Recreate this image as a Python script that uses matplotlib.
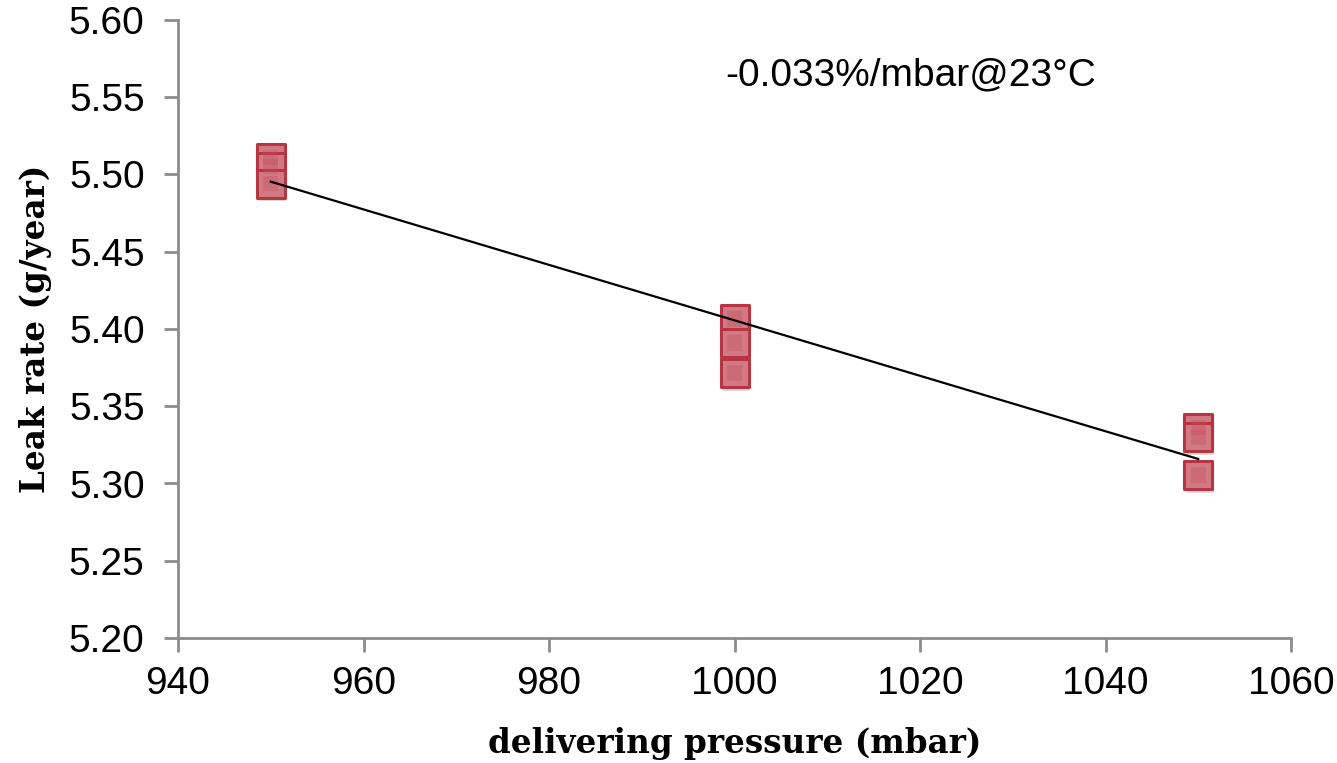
import matplotlib
matplotlib.use("Agg")
import matplotlib.pyplot as plt
import matplotlib.transforms as mtransforms
import numpy as np

# leak rate readings at three delivering pressures
pressure = [950, 950, 950, 1000, 1000, 1000, 1050, 1050, 1050]
leak_rate = [5.511, 5.505, 5.494, 5.4065, 5.391, 5.3715, 5.336, 5.330, 5.3055]
x_ticks = [940, 960, 980, 1000, 1020, 1040, 1060]
y_ticks = [5.20, 5.25, 5.30, 5.35, 5.40, 5.45, 5.50, 5.55, 5.60]
note = "-0.033%/mbar@23°C"

grey = "#8c8c8c"
fig = plt.figure(figsize=(13.37, 7.63), dpi=100)
ax = fig.add_axes([178 / 1337, 1 - 638 / 763, (1291 - 178) / 1337, (638 - 20) / 763])

# linear trend (Excel-style, only across data range)
x = np.array(pressure, dtype=float)
y = np.array(leak_rate)
k, b = np.polyfit(x, y, 1)
xs = np.array([x.min(), x.max()])

# soft drop shadow under the markers
shadow = mtransforms.offset_copy(ax.transData, fig=fig, x=2, y=-4, units="dots")
ax.scatter(pressure, leak_rate, marker="s", s=380, facecolor="#888888",
           edgecolor="none", alpha=0.3, transform=shadow, zorder=2)
ax.scatter(pressure, leak_rate, marker="s", s=380, facecolor="#d27a83",
           edgecolor="#b73442", linewidth=2.2, zorder=3)
# darker core to hint at the bevelled marker look
ax.scatter(pressure, leak_rate, marker="s", s=120, facecolor="#c4505c",
           edgecolor="none", alpha=0.35, zorder=3)
ax.plot(xs, k * xs + b, color="black", lw=1.6, zorder=4)

ax.set_xlim(940, 1060)
ax.set_ylim(5.20, 5.60)
ax.set_xticks(x_ticks)
ax.set_yticks(y_ticks)
ax.set_yticklabels([f"{v:.2f}" for v in y_ticks])
for s in ("top", "right"):
    ax.spines[s].set_visible(False)
for s in ("left", "bottom"):
    ax.spines[s].set_color(grey)
    ax.spines[s].set_linewidth(2)
ax.tick_params(axis="both", direction="out", length=10, width=2, color=grey,
               labelsize=28)
ax.tick_params(axis="y", pad=14)
ax.tick_params(axis="x", pad=10)
for t in ax.get_xticklabels() + ax.get_yticklabels():
    t.set_fontfamily("Liberation Sans")

lab = dict(family="DejaVu Serif", weight="bold", size=23.5)
ax.set_xlabel("delivering pressure (mbar)", labelpad=18, **lab)
ax.set_ylabel("Leak rate (g/year)", labelpad=12, **lab)
ax.text(999, 5.564, note, fontsize=28, family="Liberation Sans", ha="left", va="center")

fig.savefig("out.png", dpi=100)
